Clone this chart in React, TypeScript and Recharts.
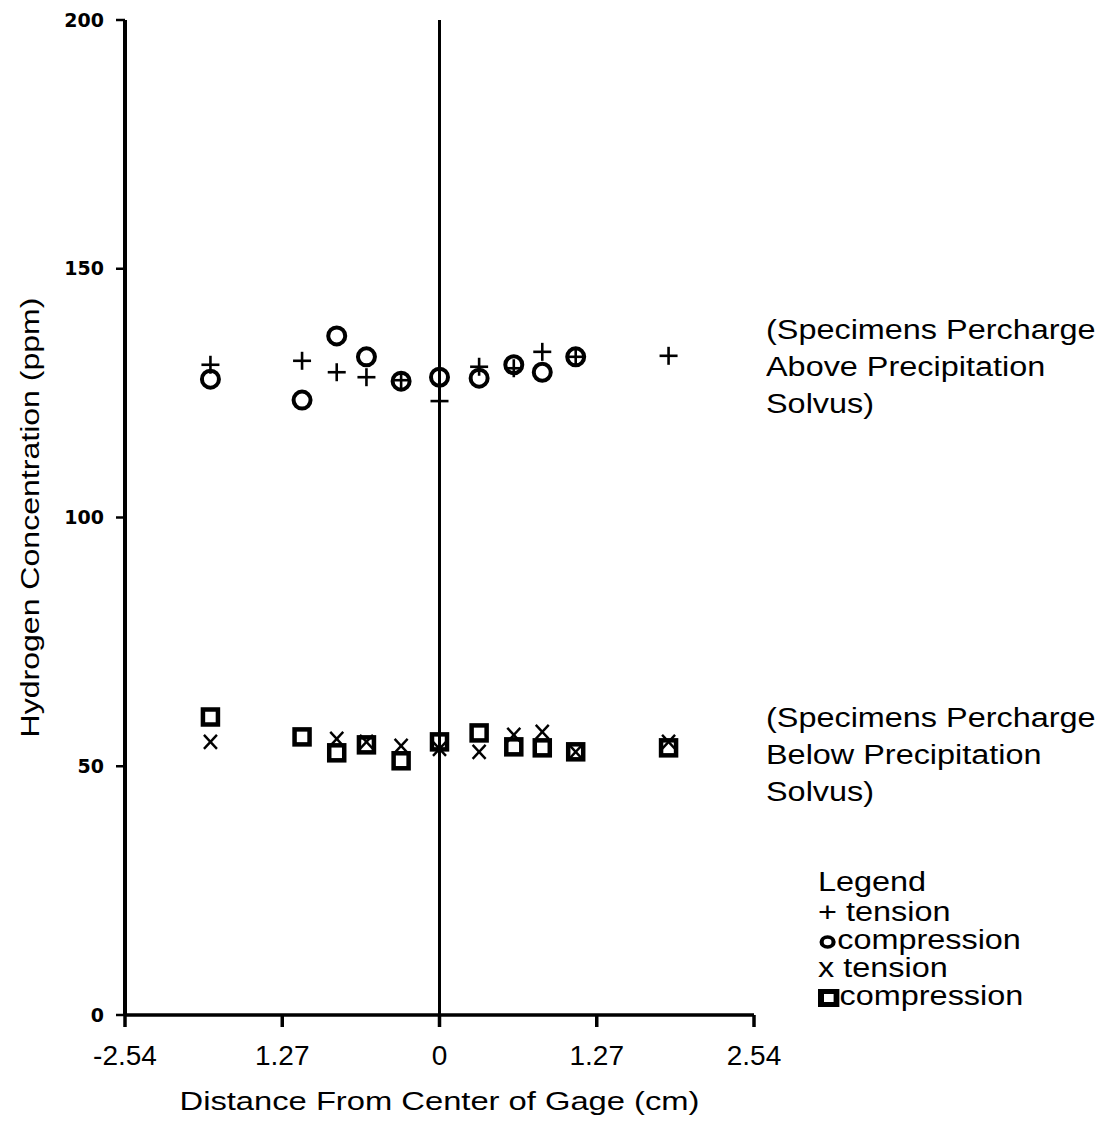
import { ScatterChart, Scatter, XAxis, YAxis, ReferenceLine, Legend } from "recharts";

// distance from gage center (cm) and hydrogen content (ppm)
const tensionHighX = [-1.85, -1.11, -0.83, -0.59, -0.31, 0, 0.32, 0.6, 0.83, 1.1, 1.85];
const tensionHighY = [130.7, 131.5, 129.2, 128.2, 127.6, 123.4, 130.3, 130.0, 133.3, 132.3, 132.5];
const compressionHighX = [-1.85, -1.11, -0.83, -0.59, -0.31, 0, 0.32, 0.6, 0.83, 1.1];
const compressionHighY = [127.8, 123.6, 136.5, 132.3, 127.4, 128.2, 128.0, 130.7, 129.2, 132.3];
const tensionLowX = [-1.85, -0.83, -0.59, -0.31, 0, 0.32, 0.6, 0.83, 1.1, 1.85];
const tensionLowY = [54.9, 55.5, 54.9, 54.1, 53.5, 52.9, 56.3, 56.9, 52.9, 54.9];
const compressionLowX = [-1.85, -1.11, -0.83, -0.59, -0.31, 0, 0.32, 0.6, 0.83, 1.1, 1.85];
const compressionLowY = [59.9, 55.9, 52.7, 54.3, 51.1, 54.9, 56.7, 53.9, 53.7, 52.9, 53.7];

const xTicks = [-2.54, -1.27, 0, 1.27, 2.54];
const xTickLabels = ["-2.54", "1.27", "0", "1.27", "2.54"];
const yTicks = [0, 50, 100, 150, 200];
const seriesOrder = ["tensionHigh", "compressionHigh", "tensionLow", "compressionLow"];

const zip = (xs: number[], ys: number[]) => xs.map((x, i) => ({ x, y: ys[i] }));

const FONT = '"Liberation Sans", Arial, sans-serif';

const Plus = (p: any) => (
  <g stroke="#000" strokeWidth={2.6}>
    <line x1={p.cx - 9} x2={p.cx + 9} y1={p.cy} y2={p.cy} />
    <line x1={p.cx} x2={p.cx} y1={p.cy - 9} y2={p.cy + 9} />
  </g>
);
const Ring = (p: any) => <circle cx={p.cx} cy={p.cy} r={8.5} fill="none" stroke="#000" strokeWidth={4} />;
const Cross = (p: any) => (
  <g stroke="#000" strokeWidth={2.4}>
    <line x1={p.cx - 6.5} x2={p.cx + 6.5} y1={p.cy - 7} y2={p.cy + 7} />
    <line x1={p.cx - 6.5} x2={p.cx + 6.5} y1={p.cy + 7} y2={p.cy - 7} />
  </g>
);
const Box = (p: any) => (
  <rect x={p.cx - 7.5} y={p.cy - 7.5} width={15} height={15} fill="none" stroke="#000" strokeWidth={4.5} />
);

const legendMarks: Record<string, JSX.Element> = {
  tensionHigh: <span>+ </span>,
  compressionHigh: (
    <svg width={16} height={16} style={{ verticalAlign: "middle" }}>
      <circle cx={8} cy={8} r={5} fill="none" stroke="#000" strokeWidth={3.5} />
    </svg>
  ),
  tensionLow: <span>x </span>,
  compressionLow: (
    <svg width={18} height={18} style={{ verticalAlign: "middle" }}>
      <rect x={2.5} y={2.5} width={13} height={13} fill="none" stroke="#000" strokeWidth={5} />
    </svg>
  ),
};

function LegendBox({ payload }: any) {
  const items = [...(payload || [])].sort(
    (a: any, b: any) => seriesOrder.indexOf(a.payload?.id) - seriesOrder.indexOf(b.payload?.id)
  );
  return (
    <div style={{ fontFamily: FONT, fontSize: 27, color: "#000", transform: "scaleX(1.2)", transformOrigin: "left top" }}>
      <div style={{ lineHeight: "32px" }}>Legend</div>
      {items.map((e: any) => (
        <div key={e.payload?.id} style={{ lineHeight: "28px" }}>
          {legendMarks[e.payload?.id ?? ""] ?? null}
          {e.value}
        </div>
      ))}
    </div>
  );
}

const noteStyle: React.CSSProperties = {
  position: "absolute",
  left: 758,
  fontFamily: FONT,
  fontSize: 27,
  lineHeight: "37px",
  color: "#000",
  transform: "scaleX(1.2)",
  transformOrigin: "left top",
  whiteSpace: "nowrap",
};

export default function App() {
  return (
    <div style={{ position: "relative", width: 1090, height: 1110, background: "#fff" }}>
      <ScatterChart width={1090} height={1110} margin={{ top: 12, right: 344, bottom: 3, left: 0 }}>
        <XAxis
          type="number"
          dataKey="x"
          domain={[-2.54, 2.54]}
          ticks={xTicks}
          allowDataOverflow
          height={100}
          tickFormatter={(v: number) => xTickLabels[xTicks.indexOf(v)] ?? String(v)}
          axisLine={{ stroke: "#000", strokeWidth: 3.5 }}
          tickLine={{ stroke: "#000", strokeWidth: 3.5 }}
          tickSize={12}
          tickMargin={18}
          tick={{ fill: "#000", fontFamily: FONT, fontSize: 28 }}
          label={{
            content: ({ viewBox }: any) => (
              <text
                x={viewBox.x + viewBox.width / 2}
                y={viewBox.y + 86}
                textAnchor="middle"
                dominantBaseline="central"
                fontFamily={FONT}
                fontSize={26}
                textLength={520}
                lengthAdjust="spacingAndGlyphs"
                fill="#000"
              >
                Distance From Center of Gage (cm)
              </text>
            ),
          }}
        />
        <YAxis
          type="number"
          dataKey="y"
          domain={[0, 200]}
          ticks={yTicks}
          width={117}
          axisLine={{ stroke: "#000", strokeWidth: 4 }}
          tickLine={{ stroke: "#000", strokeWidth: 2.5 }}
          tickSize={9}
          tickMargin={12}
          tick={{ fill: "#000", fontFamily: '"DejaVu Sans", sans-serif', fontWeight: "bold", fontSize: 19 }}
          label={{
            content: ({ viewBox }: any) => {
              const cx = viewBox.x + 22;
              const cy = viewBox.y + viewBox.height / 2;
              return (
                <text
                  x={cx}
                  y={cy}
                  transform={`rotate(-90, ${cx}, ${cy})`}
                  textAnchor="middle"
                  dominantBaseline="central"
                  fontFamily={FONT}
                  fontSize={25}
                  textLength={440}
                  lengthAdjust="spacingAndGlyphs"
                  fill="#000"
                >
                  Hydrogen Concentration (ppm)
                </text>
              );
            },
          }}
        />
        <ReferenceLine x={0} stroke="#000" strokeWidth={3} />
        <Scatter id="tensionHigh" name="tension" data={zip(tensionHighX, tensionHighY)} shape={Plus} isAnimationActive={false} />
        <Scatter id="compressionHigh" name="compression" data={zip(compressionHighX, compressionHighY)} shape={Ring} isAnimationActive={false} />
        <Scatter id="tensionLow" name="tension" data={zip(tensionLowX, tensionLowY)} shape={Cross} isAnimationActive={false} />
        <Scatter id="compressionLow" name="compression" data={zip(compressionLowX, compressionLowY)} shape={Box} isAnimationActive={false} />
        <Legend
          layout="horizontal"
          verticalAlign="middle"
          align="center"
          content={LegendBox}
          wrapperStyle={{ left: 810, top: 858, width: 260, height: "auto" }}
        />
      </ScatterChart>
      <div style={{ ...noteStyle, top: 304 }}>
        (Specimens Percharge
        <br />
        Above Precipitation
        <br />
        Solvus)
      </div>
      <div style={{ ...noteStyle, top: 692 }}>
        (Specimens Percharge
        <br />
        Below Precipitation
        <br />
        Solvus)
      </div>
    </div>
  );
}
